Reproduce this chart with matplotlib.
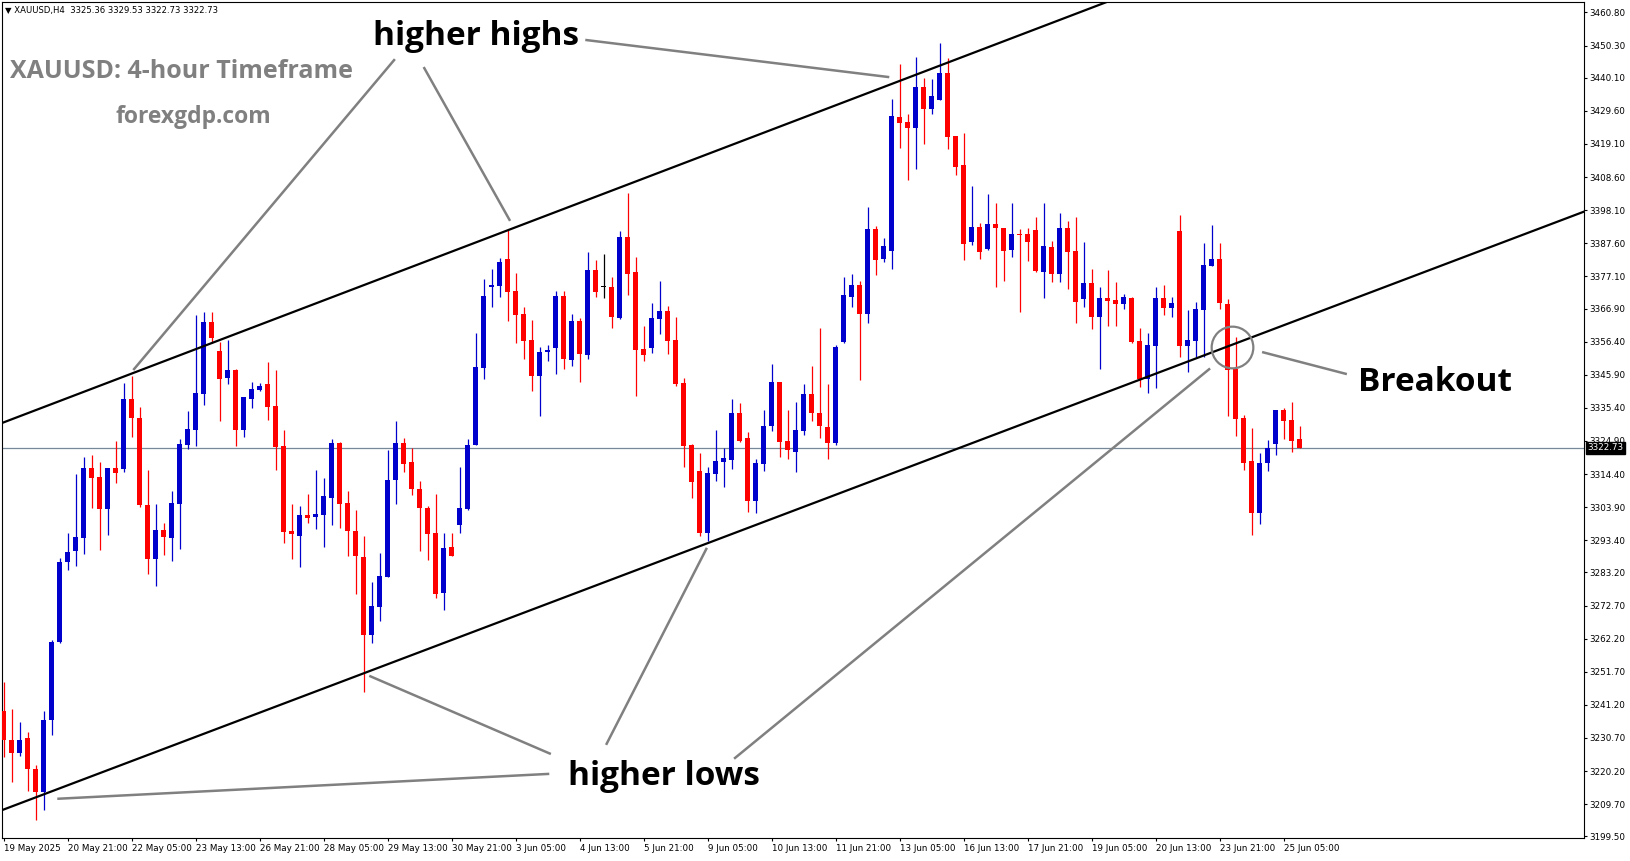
import numpy as np
import matplotlib.pyplot as plt
from matplotlib.transforms import blended_transform_factory

# XAUUSD H4 candles, 19 May 2025 13:00 .. 25 Jun 2025 13:00
opens = [3239.3, 3230.0, 3226.0, 3230.6, 3221.0, 3213.7, 3236.4, 3261.0, 3286.4, 3290.0,
         3294.2, 3316.4, 3313.6, 3303.3, 3316.4, 3316.0, 3338.2, 3332.1, 3304.6, 3287.5,
         3296.7, 3294.2, 3304.9, 3323.6, 3328.4, 3339.8, 3362.6, 3353.4, 3345.0, 3347.4,
         3328.4, 3338.2, 3341.1, 3343.0, 3336.0, 3323.3, 3296.3, 3294.9, 3301.4, 3300.9,
         3301.4, 3306.9, 3324.1, 3305.1, 3296.3, 3288.0, 3263.4, 3272.3, 3281.8, 3312.5,
         3324.1, 3318.1, 3309.6, 3303.5, 3295.6, 3276.8, 3291.3, 3298.2, 3303.2, 3323.6,
         3348.1, 3373.8, 3374.1, 3382.6, 3372.5, 3365.2, 3356.9, 3345.5, 3353.2, 3354.5,
         3370.9, 3350.6, 3363.0, 3352.2, 3379.1, 3373.6, 3373.6, 3364.0, 3389.5, 3378.4,
         3354.1, 3354.5, 3363.6, 3366.1, 3356.9, 3343.4, 3323.6, 3315.4, 3295.8, 3314.4,
         3318.3, 3318.9, 3333.9, 3325.9, 3305.9, 3317.6, 3329.6, 3343.7, 3324.9, 3321.5,
         3328.2, 3339.8, 3333.7, 3329.2, 3324.1, 3356.4, 3370.7, 3374.4, 3365.2, 3392.1,
         3382.6, 3385.3, 3427.5, 3426.0, 3424.3, 3437.1, 3430.2, 3433.0, 3441.7, 3421.6,
         3412.4, 3387.9, 3392.9, 3385.7, 3393.7, 3392.3, 3385.5, 3390.5, 3390.5, 3391.8,
         3378.4, 3386.5, 3377.9, 3392.5, 3385.3, 3369.8, 3374.9, 3364.3, 3370.1, 3369.6,
         3368.2, 3370.1, 3356.6, 3344.4, 3355.1, 3370.1, 3367.2, 3391.5, 3355.1, 3356.7,
         3366.4, 3380.5, 3382.5, 3368.2, 3347.6, 3332.1, 3318.5, 3301.9, 3317.8, 3323.9,
         3334.7, 3331.5, 3325.36]
highs = [3248.5, 3239.9, 3235.9, 3232.7, 3222.0, 3239.3, 3261.8, 3287.7, 3295.8, 3314.4,
         3319.7, 3320.4, 3318.2, 3316.4, 3325.0, 3343.2, 3345.6, 3335.6, 3315.7, 3304.9,
         3298.9, 3309.0, 3325.4, 3334.4, 3364.8, 3365.7, 3365.7, 3356.4, 3356.9, 3347.7,
         3338.9, 3343.6, 3343.2, 3349.9, 3347.4, 3328.4, 3304.9, 3304.2, 3308.0, 3315.7,
         3313.3, 3325.5, 3324.7, 3309.0, 3303.0, 3294.8, 3280.3, 3289.5, 3322.0, 3331.3,
         3325.7, 3322.6, 3312.2, 3304.3, 3308.1, 3295.8, 3295.8, 3316.7, 3325.4, 3359.0,
         3376.3, 3379.4, 3382.8, 3392.0, 3378.3, 3367.5, 3363.3, 3354.8, 3355.3, 3372.5,
         3372.5, 3365.2, 3364.0, 3384.9, 3382.3, 3384.2, 3377.0, 3391.5, 3403.6, 3383.1,
         3361.5, 3368.8, 3375.7, 3367.7, 3364.3, 3345.0, 3323.8, 3321.2, 3316.5, 3328.4,
         3322.6, 3338.2, 3337.0, 3327.8, 3319.1, 3334.7, 3349.3, 3343.7, 3334.7, 3337.4,
         3343.0, 3348.7, 3360.8, 3343.0, 3355.3, 3376.8, 3377.9, 3375.6, 3399.2, 3393.1,
         3389.3, 3433.4, 3444.5, 3428.6, 3446.8, 3439.9, 3439.6, 3451.2, 3446.3, 3421.6,
         3422.7, 3405.9, 3394.1, 3403.2, 3400.5, 3392.3, 3400.3, 3392.0, 3392.5, 3396.0,
         3400.3, 3388.4, 3397.1, 3394.7, 3396.0, 3387.9, 3379.3, 3373.6, 3379.1, 3375.2,
         3371.4, 3370.5, 3360.6, 3359.0, 3373.6, 3374.3, 3370.5, 3396.6, 3366.4, 3368.9,
         3387.8, 3393.4, 3387.8, 3369.9, 3358.0, 3333.1, 3328.9, 3321.0, 3325.2, 3334.7,
         3335.2, 3337.4, 3329.53]
lows = [3224.5, 3216.8, 3225.0, 3214.0, 3204.7, 3207.8, 3231.6, 3260.7, 3284.0, 3285.2,
        3289.0, 3303.7, 3290.3, 3295.1, 3311.7, 3315.2, 3326.0, 3304.0, 3282.7, 3279.0,
        3288.7, 3286.9, 3290.6, 3322.4, 3323.4, 3336.3, 3355.9, 3331.2, 3343.0, 3323.4,
        3326.3, 3335.5, 3340.8, 3331.5, 3315.7, 3292.4, 3287.5, 3285.0, 3299.0, 3297.0,
        3291.4, 3298.2, 3297.4, 3288.4, 3276.4, 3245.4, 3260.9, 3267.9, 3281.8, 3304.8,
        3315.2, 3307.8, 3290.1, 3287.1, 3275.0, 3271.3, 3288.5, 3295.8, 3303.0, 3323.6,
        3344.4, 3367.5, 3370.7, 3363.0, 3356.1, 3350.9, 3340.9, 3332.9, 3350.4, 3346.1,
        3347.7, 3348.8, 3343.7, 3350.9, 3370.7, 3370.3, 3360.8, 3363.6, 3371.2, 3339.3,
        3350.3, 3352.7, 3358.8, 3352.5, 3342.4, 3316.5, 3306.9, 3294.9, 3293.2, 3312.2,
        3310.4, 3315.9, 3324.7, 3302.5, 3301.9, 3315.5, 3328.2, 3319.9, 3319.2, 3315.2,
        3326.8, 3331.3, 3325.9, 3319.2, 3323.6, 3356.1, 3367.5, 3344.2, 3362.4, 3377.5,
        3381.8, 3379.4, 3417.9, 3407.7, 3411.2, 3419.1, 3428.6, 3433.0, 3417.5, 3409.3,
        3382.3, 3387.1, 3382.5, 3385.5, 3373.6, 3375.6, 3383.1, 3365.7, 3382.1, 3378.6,
        3370.1, 3375.4, 3375.2, 3373.1, 3362.2, 3367.5, 3360.3, 3347.6, 3361.5, 3361.5,
        3366.6, 3356.1, 3342.1, 3340.2, 3341.8, 3364.9, 3364.3, 3351.6, 3346.9, 3351.4,
        3351.6, 3380.5, 3366.9, 3332.8, 3326.5, 3315.7, 3295.1, 3298.6, 3315.5, 3320.4,
        3325.5, 3321.5, 3322.73]
closes = [3230.0, 3226.0, 3230.0, 3221.0, 3213.7, 3236.4, 3261.2, 3286.6, 3289.8, 3294.5,
          3316.4, 3313.3, 3303.3, 3316.4, 3314.8, 3338.2, 3332.3, 3304.6, 3287.5, 3296.7,
          3294.5, 3305.1, 3323.8, 3328.7, 3340.1, 3362.6, 3357.4, 3344.6, 3347.4, 3328.4,
          3338.7, 3341.4, 3342.3, 3335.8, 3323.1, 3296.1, 3295.3, 3301.4, 3300.4, 3301.7,
          3307.4, 3324.1, 3304.9, 3296.3, 3288.4, 3263.4, 3272.5, 3282.0, 3312.5, 3324.1,
          3317.5, 3309.7, 3303.7, 3295.4, 3276.4, 3291.0, 3288.5, 3303.7, 3323.6, 3348.2,
          3370.9, 3374.4, 3381.8, 3372.3, 3364.8, 3356.7, 3345.5, 3353.1, 3353.7, 3370.9,
          3350.9, 3363.0, 3352.5, 3379.1, 3372.3, 3373.6, 3364.1, 3389.5, 3377.8, 3353.7,
          3352.2, 3364.0, 3366.1, 3356.7, 3343.0, 3323.4, 3312.0, 3295.8, 3314.8, 3318.5,
          3319.6, 3333.9, 3324.9, 3305.9, 3318.0, 3329.6, 3343.7, 3324.7, 3322.0, 3328.4,
          3339.8, 3333.7, 3329.8, 3324.1, 3354.8, 3371.2, 3374.4, 3365.2, 3392.1, 3382.3,
          3386.7, 3428.0, 3425.9, 3424.3, 3437.1, 3430.2, 3434.3, 3441.7, 3421.2, 3411.7,
          3387.4, 3392.9, 3384.7, 3393.7, 3392.3, 3385.1, 3390.5, 3390.3, 3388.1, 3378.8,
          3386.7, 3377.9, 3392.5, 3384.9, 3369.1, 3374.9, 3364.3, 3370.1, 3369.4, 3368.2,
          3370.5, 3356.4, 3344.5, 3355.3, 3370.1, 3367.2, 3368.6, 3355.1, 3356.9, 3366.7,
          3380.7, 3382.5, 3368.8, 3347.4, 3331.9, 3318.0, 3301.9, 3317.8, 3322.6, 3334.7,
          3331.3, 3325.0, 3322.73]

# time axis labels, one every 8 bars
date_labels = ["19 May 2025", "20 May 21:00", "22 May 05:00", "23 May 13:00", "26 May 21:00",
               "28 May 05:00", "29 May 13:00", "30 May 21:00", "3 Jun 05:00", "4 Jun 13:00",
               "5 Jun 21:00", "9 Jun 05:00", "10 Jun 13:00", "11 Jun 21:00", "13 Jun 05:00",
               "16 Jun 13:00", "17 Jun 21:00", "19 Jun 05:00", "20 Jun 13:00", "23 Jun 21:00",
               "25 Jun 05:00"]
price_ticks = [3460.80, 3450.30, 3440.10, 3429.60, 3419.10, 3408.60, 3398.10, 3387.60,
               3377.10, 3366.90, 3356.40, 3345.90, 3335.40, 3324.90, 3314.40, 3303.90,
               3293.40, 3283.20, 3272.70, 3262.20, 3251.70, 3241.20, 3230.70, 3220.20,
               3209.70, 3199.50]
last_price = 3322.73

# channel lines (price at bar 0, slope per bar)
upper_channel = (3330.8, 0.967)
lower_channel = (3208.0, 0.960)

# annotation leader lines: (bar0, price0, bar1, price1)
hh_lines = [(48.9, 3446.0, 16.2, 3347.4), (52.5, 3443.5, 63.3, 3394.7), (72.7, 3452.1, 110.7, 3440.3)]
hl_lines = [(68.2, 3219.3, 6.7, 3211.4), (68.4, 3225.6, 45.7, 3250.4),
            (75.3, 3228.5, 87.9, 3291.0), (91.3, 3224.1, 150.8, 3347.9)]
bo_lines = [(167.9, 3346.1, 157.3, 3353.1)]
breakout_point = (153.5, 3354.8)

W, H = 1631, 861
fig = plt.figure(figsize=(W / 100, H / 100), dpi=100)
ax = fig.add_axes([2 / W, 1 - 838 / H, 1582 / W, 836 / H])

x = np.arange(len(opens))
o = np.array(opens)
c = np.array(closes)
colors = np.where(c > o, '#0000cd', np.where(c < o, '#ff0000', '#000000'))
bottoms = np.minimum(o, c)
heights = np.maximum(np.abs(c - o), 0.35)

ax.vlines(x, lows, highs, colors=colors, lw=0.9, zorder=3)
ax.bar(x, heights, width=0.62, bottom=bottoms, color=colors, linewidth=0, zorder=4)

# current price line
ax.axhline(last_price, color='#778899', lw=0.9, zorder=2)

# channel
for b, m in [upper_channel, lower_channel]:
    ax.axline((0, b), slope=m, color='black', lw=1.6, zorder=5)

for seg in hh_lines + hl_lines + bo_lines:
    ax.plot([seg[0], seg[2]], [seg[1], seg[3]], color='#808080', lw=1.8,
            solid_capstyle='butt', zorder=6)

ax.plot(*breakout_point, 'o', ms=30, mfc='none', mec='#808080', mew=1.6, zorder=6)

font = 'Open Sans'
ax.text(59.0, 3453.3, 'higher highs', fontsize=24, fontweight='bold', family=font,
        ha='center', va='center', zorder=7)
ax.text(82.5, 3218.6, 'higher lows', fontsize=24, fontweight='bold', family=font,
        ha='center', va='center', zorder=7)
ax.text(178.9, 3343.3, 'Breakout', fontsize=24, fontweight='bold', family=font,
        ha='center', va='center', zorder=7)

fig.text(182 / W, 1 - 71 / H, 'XAUUSD: 4-hour Timeframe', fontsize=18, fontweight='bold',
         family=font, color='#808080', ha='center', va='center')
fig.text(193 / W, 1 - 117 / H, 'forexgdp.com', fontsize=16.5, fontweight='bold',
         family=font, color='#808080', ha='center', va='center')
fig.text(5 / W, 1 - 11 / H, '\u25bc XAUUSD,H4  3325.36 3329.53 3322.73 3322.73',
         fontsize=6.1, ha='left', va='center')

ax.set_xlim(-0.21, 197.54)
ax.set_ylim(3198.96, 3464.13)

ax.set_xticks(np.arange(len(date_labels)) * 8)
ax.set_xticklabels(date_labels)
for lab in ax.get_xticklabels():
    lab.set_horizontalalignment('left')
ax.yaxis.tick_right()
ax.set_yticks(price_ticks)
ax.set_yticklabels([f'{p:.2f}' for p in price_ticks])
ax.tick_params(axis='both', labelsize=6.3, length=2.5, width=0.8, direction='out', pad=1.5)
for sp in ax.spines.values():
    sp.set_linewidth(0.8)

tr = blended_transform_factory(ax.transAxes, ax.transData)
ax.text(1.002, last_price, f'{last_price:.2f}', transform=tr, fontsize=6.3, color='white',
        ha='left', va='center', zorder=10, clip_on=False,
        bbox=dict(boxstyle='square,pad=0.15', fc='black', ec='black'))

fig.savefig('out.png', dpi=100)
